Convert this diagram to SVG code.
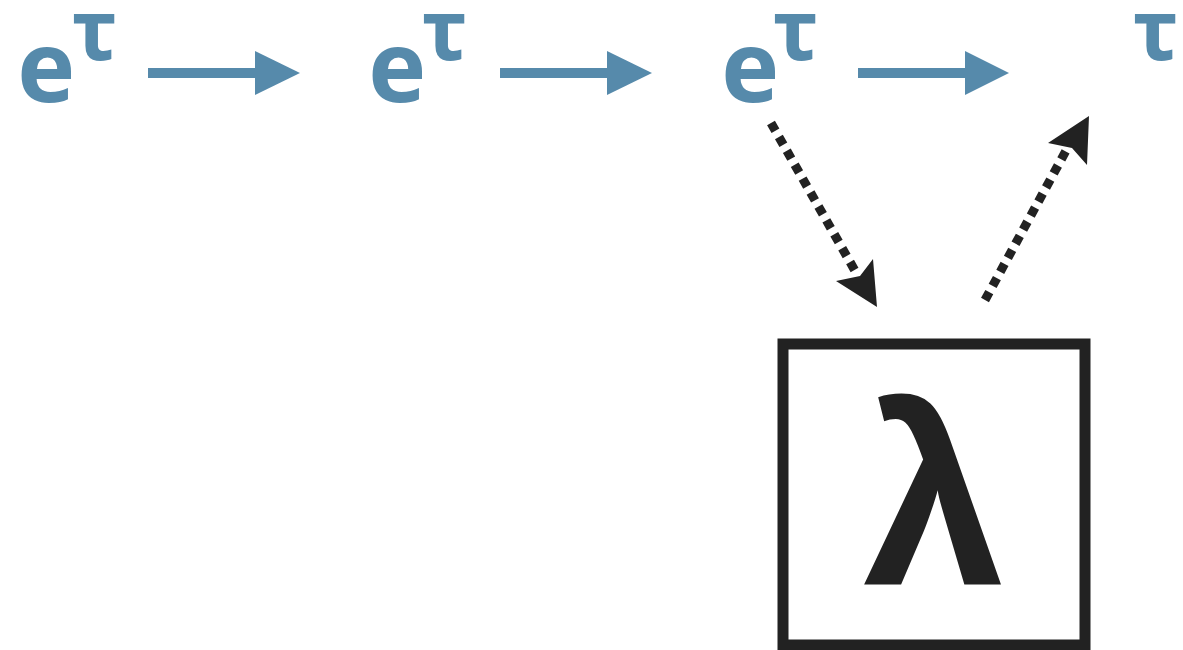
<svg xmlns="http://www.w3.org/2000/svg" width="1183" height="650" viewBox="0 0 1183 650">
<defs>
<style>
.b{fill:#568aab;font-family:"Noto Sans","Liberation Sans",sans-serif;font-weight:bold}
.e{font-size:98px}
.t{font-size:84px}
.line{stroke:#568aab;stroke-width:10;fill:none}
.dot{stroke:#222;stroke-width:9;stroke-dasharray:9 7;fill:none}
.head{fill:#568aab}
.dhead{fill:#222}
</style>
</defs>
<rect width="1183" height="650" fill="#fff"/>
<g id="n1"><text class="b e" x="17" y="102">e</text><text class="b t" x="72" y="60">τ</text></g>
<g id="n2"><text class="b e" x="368" y="102">e</text><text class="b t" x="422" y="60">τ</text></g>
<g id="n3"><text class="b e" x="721" y="102">e</text><text class="b t" x="773" y="60">τ</text></g>
<g id="n4"><text class="b t" x="1133" y="60">τ</text></g>
<g id="lambda"><rect x="783" y="344" width="302" height="301" fill="#fff" stroke="#222" stroke-width="11"/><text x="934" y="585" text-anchor="middle" font-family="Liberation Sans, sans-serif" font-weight="bold" font-size="255" fill="#222">λ</text></g>
<g id="connectors">
<line class="line" x1="148" y1="73" x2="258" y2="73"/><polygon class="head" points="255,51 300,73 255,95"/>
<line class="line" x1="500" y1="73" x2="610" y2="73"/><polygon class="head" points="607,51 652,73 607,95"/>
<line class="line" x1="858" y1="73" x2="968" y2="73"/><polygon class="head" points="965,51 1009,73 965,95"/>
<line class="dot" x1="771" y1="123" x2="858" y2="276"/><polygon class="dhead" points="877,307 836,281 860,276 873,259"/>
<line class="dot" x1="985" y1="300" x2="1068" y2="147"/><polygon class="dhead" points="1089,116 1087,165 1072,148 1048,143"/>
</g>
</svg>
